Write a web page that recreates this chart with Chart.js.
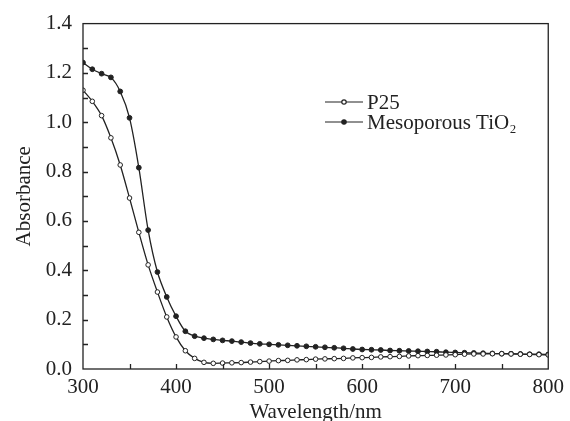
<!DOCTYPE html>
<html>
<head>
<meta charset="utf-8">
<script src="https://cdn.jsdelivr.net/npm/chart.js@4.4.1/dist/chart.umd.min.js"></script>
<style>
  html, body { margin: 0; padding: 0; background: #fff; }
</style>
</head>
<body>
<canvas id="absChart" width="570" height="421"></canvas>
<script>
// wavelength (nm), one point every 10 nm
const wavelength = [300, 310, 320, 330, 340, 350, 360, 370, 380, 390,
  400, 410, 420, 430, 440, 450, 460, 470, 480, 490,
  500, 510, 520, 530, 540, 550, 560, 570, 580, 590,
  600, 610, 620, 630, 640, 650, 660, 670, 680, 690,
  700, 710, 720, 730, 740, 750, 760, 770, 780, 790, 800];

const p25 = [1.13, 1.085, 1.027, 0.937, 0.827, 0.693, 0.554, 0.422, 0.312, 0.211,
  0.130, 0.074, 0.043, 0.027, 0.023, 0.024, 0.025, 0.026, 0.028, 0.030,
  0.032, 0.034, 0.035, 0.037, 0.038, 0.040, 0.041, 0.042, 0.043, 0.045,
  0.046, 0.047, 0.049, 0.050, 0.051, 0.053, 0.054, 0.055, 0.056, 0.057,
  0.058, 0.060, 0.061, 0.061, 0.062, 0.062, 0.061, 0.060, 0.059, 0.058, 0.057];

const mesoTiO2 = [1.242, 1.215, 1.197, 1.182, 1.125, 1.018, 0.816, 0.563, 0.393, 0.292,
  0.214, 0.153, 0.133, 0.125, 0.120, 0.116, 0.113, 0.109, 0.105, 0.102,
  0.100, 0.098, 0.096, 0.094, 0.092, 0.090, 0.088, 0.086, 0.084, 0.081,
  0.079, 0.078, 0.077, 0.075, 0.074, 0.073, 0.072, 0.071, 0.070, 0.068,
  0.067, 0.066, 0.065, 0.064, 0.063, 0.062, 0.062, 0.061, 0.060, 0.060, 0.059];

const seriesLabels = ["P25", "Mesoporous TiO\u2082"];
const xTitle = "Wavelength/nm";
const yTitle = "Absorbance";

const ink = "#222";
const font = "Liberation Serif";

// frame + inward ticks (major and minor)
const frameTicks = {
  id: "frameTicks",
  afterDraw(chart) {
    const { ctx, chartArea: a, scales: { x, y } } = chart;
    ctx.save();
    ctx.strokeStyle = ink;
    ctx.lineWidth = 1.3;
    ctx.strokeRect(a.left, a.top, a.right - a.left, a.bottom - a.top);
    ctx.beginPath();
    for (let v = 350; v < 800; v += 50) {
      const px = Math.round(x.getPixelForValue(v)) + 0.5;
      ctx.moveTo(px, a.bottom);
      ctx.lineTo(px, a.bottom - 5);
    }
    for (let i = 1; i < 14; i++) {
      const py = Math.round(y.getPixelForValue(i / 10)) + 0.5;
      ctx.moveTo(a.left, py);
      ctx.lineTo(a.left + 5, py);
    }
    ctx.stroke();
    ctx.restore();
  }
};

// legend drawn like the original: short line with marker, then label
const plotLegend = {
  id: "plotLegend",
  afterDraw(chart) {
    const { ctx } = chart;
    const x0 = 325, x1 = 363, y0 = 102, dy = 20;
    ctx.save();
    ctx.font = "21px '" + font + "'";
    ctx.textBaseline = "middle";
    chart.data.datasets.forEach((ds, i) => {
      const yy = y0 + i * dy;
      ctx.strokeStyle = ink;
      ctx.lineWidth = 1.2;
      ctx.beginPath();
      ctx.moveTo(x0, yy);
      ctx.lineTo(x1, yy);
      ctx.stroke();
      ctx.beginPath();
      ctx.arc((x0 + x1) / 2, yy, 2.2, 0, Math.PI * 2);
      ctx.fillStyle = ds.pointBackgroundColor;
      ctx.fill();
      ctx.stroke();
      ctx.fillStyle = ink;
      ctx.fillText(ds.label, x1 + 4, yy + 1);
    });
    ctx.restore();
  }
};

new Chart(document.getElementById("absChart"), {
  type: "line",
  data: {
    datasets: [
      {
        label: seriesLabels[0],
        data: wavelength.map((w, i) => ({ x: w, y: p25[i] })),
        borderColor: ink,
        borderWidth: 1.3,
        pointRadius: 2.3,
        pointBorderWidth: 1,
        pointBorderColor: ink,
        pointBackgroundColor: "#fff",
        tension: 0.3,
      },
      {
        label: seriesLabels[1],
        data: wavelength.map((w, i) => ({ x: w, y: mesoTiO2[i] })),
        borderColor: ink,
        borderWidth: 1.3,
        pointRadius: 2.4,
        pointBorderWidth: 1,
        pointBorderColor: ink,
        pointBackgroundColor: ink,
        tension: 0.3,
      },
    ],
  },
  options: {
    responsive: false,
    animation: false,
    layout: { padding: { top: 22, right: 17, left: 0, bottom: 0 } },
    plugins: { legend: { display: false }, tooltip: { enabled: false } },
    scales: {
      x: {
        type: "linear",
        min: 300,
        max: 800,
        afterFit(scale) { scale.height = 52; },
        grid: { display: false, drawTicks: false },
        border: { display: false },
        ticks: { stepSize: 100, color: ink, padding: 6, font: { family: font, size: 21 } },
        title: { display: true, text: xTitle, color: ink, padding: { top: 0, bottom: -4 }, font: { family: font, size: 21 } },
      },
      y: {
        min: 0,
        max: 1.4,
        afterFit(scale) { scale.width = 83; },
        grid: { display: false, drawTicks: false },
        border: { display: false },
        ticks: {
          stepSize: 0.2,
          color: ink,
          padding: 11,
          font: { family: font, size: 21 },
          callback: (v) => v.toFixed(1),
        },
        title: { display: true, text: yTitle, color: ink, padding: { top: 12, bottom: 0 }, font: { family: font, size: 21 } },
      },
    },
  },
  plugins: [frameTicks, plotLegend],
});
</script>
</body>
</html>
